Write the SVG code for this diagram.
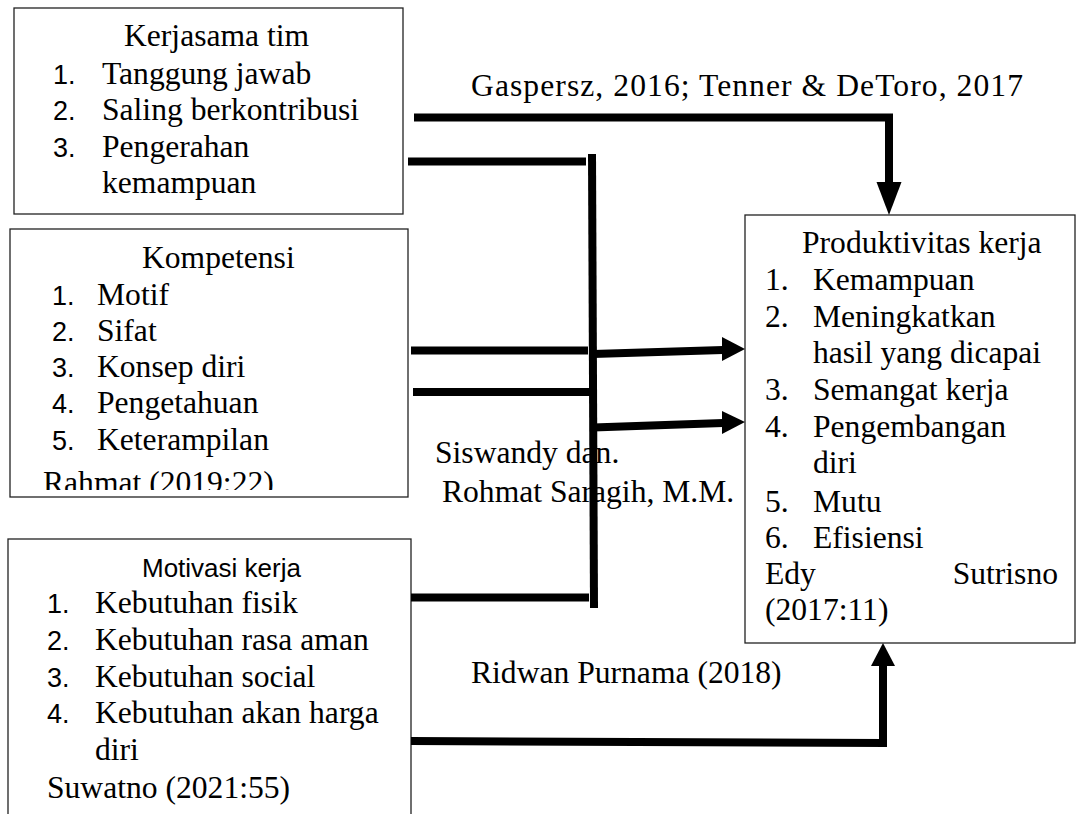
<svg xmlns="http://www.w3.org/2000/svg" width="1076" height="814" viewBox="0 0 1076 814">
<style>
.box{fill:#fff;stroke:#222;stroke-width:1.3}
.t{font-family:"Liberation Serif","Times New Roman",serif;font-size:31.6px;fill:#000}
.n{font-family:"Liberation Sans",Arial,sans-serif;font-size:27px;fill:#000}
.st{font-family:"Liberation Sans",Arial,sans-serif;font-size:26px;fill:#000}
.c{stroke:#000;stroke-width:8;fill:none}
.ah{fill:#000;stroke:none}
</style>
<defs>
<clipPath id="clipK"><rect x="0" y="229" width="420" height="261"/></clipPath>
</defs>
<rect width="1076" height="814" fill="#fff"/>

<g id="node-kerjasama">
<rect class="box" x="14" y="8" width="389" height="206"/>
<text class="t" x="124" y="46">Kerjasama tim</text>
<text class="n" x="53" y="84">1.</text><text class="t" x="102" y="84">Tanggung jawab</text>
<text class="n" x="53" y="120">2.</text><text class="t" x="102" y="120">Saling berkontribusi</text>
<text class="n" x="53" y="157">3.</text><text class="t" x="102" y="157">Pengerahan</text>
<text class="t" x="102" y="193">kemampuan</text>
</g>

<g id="node-kompetensi">
<rect class="box" x="10" y="229" width="398" height="268"/>
<g clip-path="url(#clipK)">
<text class="t" x="142" y="268">Kompetensi</text>
<text class="n" x="52" y="305">1.</text><text class="t" x="97" y="305">Motif</text>
<text class="n" x="52" y="341">2.</text><text class="t" x="97" y="341">Sifat</text>
<text class="n" x="52" y="377">3.</text><text class="t" x="97" y="377">Konsep diri</text>
<text class="n" x="52" y="413">4.</text><text class="t" x="97" y="413">Pengetahuan</text>
<text class="n" x="52" y="450">5.</text><text class="t" x="97" y="450">Keterampilan</text>
<text class="t" x="43" y="493">Rahmat (2019:22)</text>
</g>
</g>

<g id="node-motivasi">
<rect class="box" x="8" y="539" width="403" height="300"/>
<text class="st" x="142" y="577">Motivasi kerja</text>
<text class="n" x="47" y="613">1.</text><text class="t" x="95" y="613">Kebutuhan fisik</text>
<text class="n" x="47" y="650">2.</text><text class="t" x="95" y="650">Kebutuhan rasa aman</text>
<text class="n" x="47" y="687">3.</text><text class="t" x="95" y="687">Kebutuhan social</text>
<text class="n" x="47" y="723">4.</text><text class="t" x="95" y="723">Kebutuhan akan harga</text>
<text class="t" x="95" y="760">diri</text>
<text class="t" x="47" y="798">Suwatno (2021:55)</text>
</g>

<g id="node-produktivitas">
<rect class="box" x="745" y="215" width="330" height="428"/>
<text class="t" x="802" y="253">Produktivitas kerja</text>
<text class="t" x="765" y="290">1.</text><text class="t" x="813" y="290">Kemampuan</text>
<text class="t" x="765" y="327">2.</text><text class="t" x="813" y="327">Meningkatkan</text>
<text class="t" x="813" y="363">hasil yang dicapai</text>
<text class="t" x="765" y="400">3.</text><text class="t" x="813" y="400">Semangat kerja</text>
<text class="t" x="765" y="437">4.</text><text class="t" x="813" y="437">Pengembangan</text>
<text class="t" x="813" y="473">diri</text>
<text class="t" x="765" y="512">5.</text><text class="t" x="813" y="512">Mutu</text>
<text class="t" x="765" y="548">6.</text><text class="t" x="813" y="548">Efisiensi</text>
<text class="t" x="765" y="584">Edy</text><text class="t" x="1058" y="584" text-anchor="end">Sutrisno</text>
<text class="t" x="765" y="620">(2017:11)</text>
</g>

<g id="labels">
<text class="t" x="471" y="96" textLength="552" lengthAdjust="spacing">Gaspersz, 2016; Tenner &amp; DeToro, 2017</text>
<text class="t" x="435" y="463">Siswandy dan.</text>
<text class="t" x="442" y="502">Rohmat Saragih, M.M.</text>
<text class="t" x="471" y="683">Ridwan Purnama (2018)</text>
</g>

<g id="connectors">
<polyline class="c" points="414,117.5 889,117.5 889,184"/>
<polygon class="ah" points="876.5,182 901.5,182 889,215"/>
<line class="c" x1="408" y1="161.5" x2="586" y2="161.5"/>
<line class="c" x1="592" y1="154" x2="594" y2="608"/>
<line class="c" x1="411" y1="350.5" x2="588" y2="350.5"/>
<line class="c" x1="413" y1="392" x2="590" y2="392"/>
<line class="c" x1="411" y1="597.5" x2="589" y2="597.5"/>
<line class="c" x1="593" y1="354" x2="723" y2="350"/>
<polygon class="ah" points="722,337 745,349 722,361"/>
<line class="c" x1="593" y1="427.5" x2="723" y2="423"/>
<polygon class="ah" points="722,411 745,422 722,434"/>
<polyline class="c" points="411,741 883,743 883,664"/>
<polygon class="ah" points="871,666 895,666 883,643"/>
</g>
</svg>
